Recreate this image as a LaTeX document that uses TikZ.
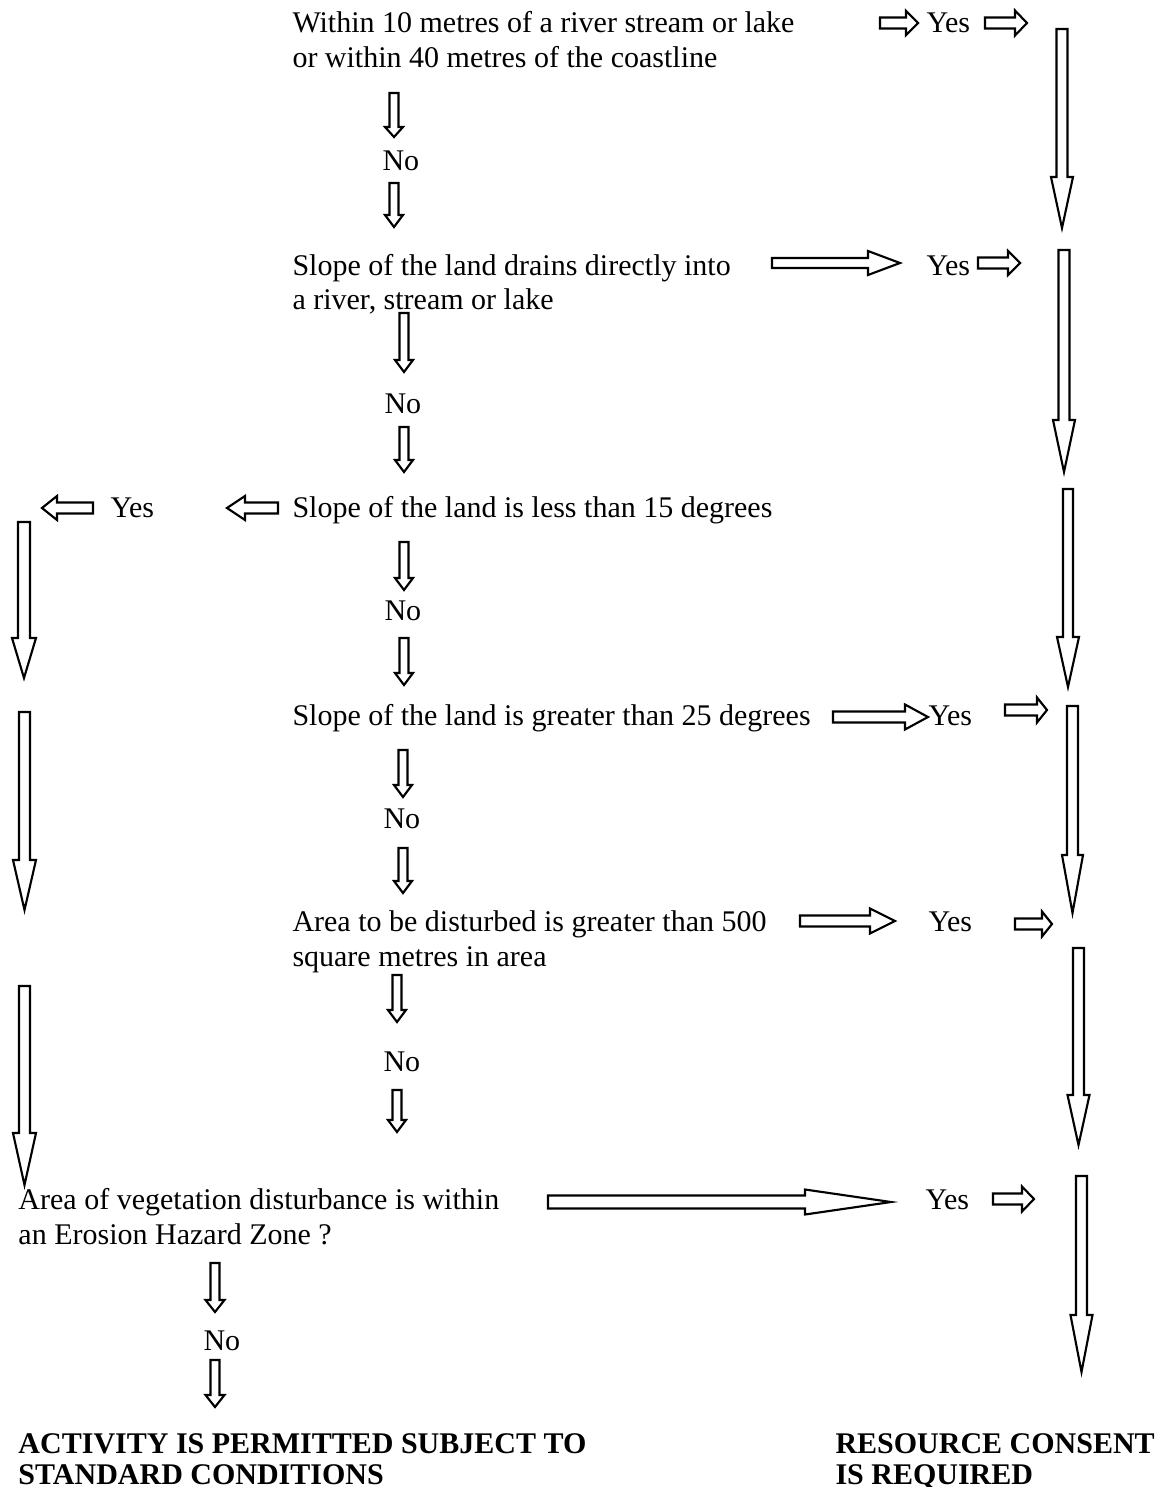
\documentclass[tikz,border=0pt]{standalone}
\usepackage{fontspec}
\setmainfont{Liberation Serif}
\tikzset{
  txt/.style={anchor=base west, inner sep=0pt, font=\fontsize{12}{14}\selectfont},
  bold/.style={txt, font=\fontsize{12}{14}\selectfont\bfseries},
  blockarrow/.style={draw=black, line width=0.85pt, fill=white, line join=miter}
}
% horizontal block arrow: tail x, head-base x, tip x, centre y, shaft half-width, head half-width
\newcommand\harr[6]{\draw[blockarrow] (#1,#4-#5) -- (#2,#4-#5) -- (#2,#4-#6) -- (#3,#4)
  -- (#2,#4+#6) -- (#2,#4+#5) -- (#1,#4+#5) -- cycle;}
% vertical block arrow: centre x, tail y, head-base y, tip y, shaft half-width, head half-width
\newcommand\varr[6]{\draw[blockarrow] (#1-#5,#2) -- (#1-#5,#3) -- (#1-#6,#3) -- (#1,#4)
  -- (#1+#6,#3) -- (#1+#5,#3) -- (#1+#5,#2) -- cycle;}
\begin{document}
\begin{tikzpicture}[x=0.4pt,y=-0.4pt]
\useasboundingbox (0,0) rectangle (1159,1487);

% ---- question 1
\node[txt] (q1a) at (292,32) {Within 10 metres of a river stream or lake};
\node[txt] (q1b) at (292,67) {or within 40 metres of the coastline};
\harr{880}{906}{918}{23}{5.5}{12}
\node[txt] (y1) at (926,32) {Yes};
\harr{985}{1015}{1027}{23}{5.5}{12.5}
\varr{394}{93}{127}{137}{4.5}{9}
\node[txt] (n1) at (382,170) {No};
\varr{394}{183}{215}{227}{4.5}{9}

% ---- question 2
\node[txt] (q2a) at (292,275) {Slope of the land drains directly into};
\node[txt] (q2b) at (292,309) {a river, stream or lake};
\harr{772}{868}{900}{263}{5}{12}
\node[txt] (y2) at (926,275) {Yes};
\harr{978}{1008}{1020}{263}{5.5}{12}
\varr{404}{313}{360}{372}{4.5}{9}
\node[txt] (n2) at (384,413) {No};
\varr{404}{427}{460}{472}{4.5}{9}

% ---- question 3
\node[txt] (q3) at (292,517) {Slope of the land is less than 15 degrees};
\harr{278}{245}{227}{508}{5.5}{12}
\node[txt] (y3) at (110,517) {Yes};
\harr{93}{57}{42}{508}{5.5}{12}
\varr{404}{542}{578}{590}{4.5}{9}
\node[txt] (n3) at (384,620) {No};
\varr{404}{638}{673}{685}{4.5}{9}

% ---- question 4
\node[txt] (q4) at (292,725) {Slope of the land is greater than 25 degrees};
\harr{833}{905}{928}{717}{5.5}{12.5}
\node[txt] (y4) at (928,725) {Yes};
\harr{1005}{1037}{1047}{710}{5.5}{12.5}
\varr{403}{750}{785}{797}{4.5}{9}
\node[txt] (n4) at (383,828) {No};
\varr{403}{848}{881}{893}{4.5}{9}

% ---- question 5
\node[txt] (q5a) at (292,931) {Area to be disturbed is greater than 500};
\node[txt] (q5b) at (292,966) {square metres in area};
\harr{800}{870}{895}{921}{5.5}{12.5}
\node[txt] (y5) at (928,931) {Yes};
\harr{1015}{1042}{1052}{924}{5.5}{12.5}
\varr{397}{975}{1010}{1022}{4.5}{9}
\node[txt] (n5) at (383,1071) {No};
\varr{397}{1090}{1120}{1132}{4.5}{9}

% ---- question 6
\node[txt] (q6a) at (18,1209) {Area of vegetation disturbance is within};
\node[txt] (q6b) at (18,1244) {an Erosion Hazard Zone ?};
\harr{548}{805}{891}{1202}{6.5}{12.5}
\node[txt] (y6) at (925,1209) {Yes};
\harr{993}{1022}{1034}{1199}{5.5}{12.5}
\varr{215}{1263}{1300}{1312}{4.5}{9.5}
\node[txt] (n6) at (203,1350) {No};
\varr{215}{1360}{1395}{1407}{4.5}{9.5}

% ---- "Yes" route on the left (less than 15 degrees)
\varr{24}{522}{638}{678}{6}{12}
\varr{24.5}{712}{860}{910}{5.5}{11.5}
\varr{24.5}{986}{1133}{1185}{5.5}{11.5}

% ---- "Yes" route on the right
\varr{1062}{29}{177}{228}{5.5}{11}
\varr{1064}{250}{420}{472}{5.5}{11}
\varr{1068}{489}{637}{687}{5}{11}
\varr{1072.5}{706}{855}{913}{5.5}{10.5}
\varr{1078.5}{948}{1095}{1145}{5.5}{11}
\varr{1081.5}{1176}{1315}{1372}{5.5}{11}

% ---- outcomes
\node[bold] (o1a) at (18,1453) {ACTIVITY IS PERMITTED SUBJECT TO};
\node[bold] (o1b) at (18,1484) {STANDARD CONDITIONS};
\node[bold] (o2a) at (835,1453) {RESOURCE CONSENT};
\node[bold] (o2b) at (835,1484) {IS REQUIRED};
\end{tikzpicture}
\end{document}
